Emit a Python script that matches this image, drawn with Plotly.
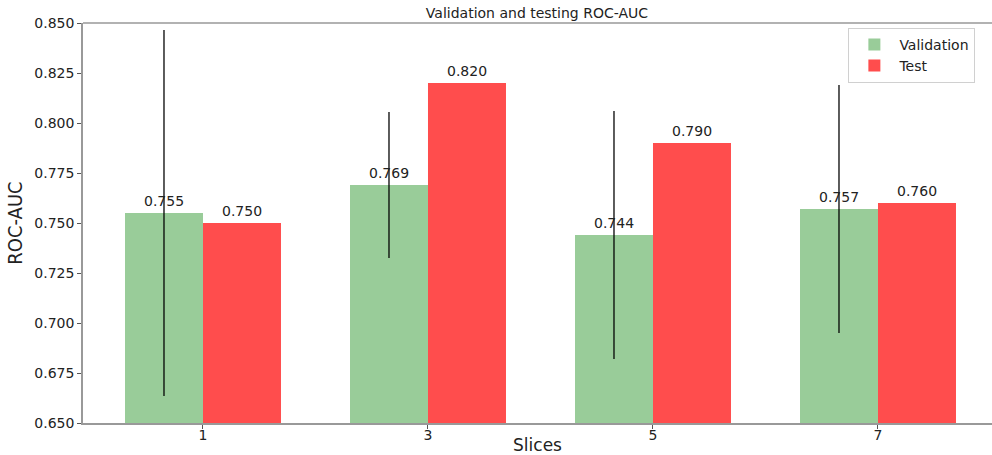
import plotly.graph_objects as go

slices = ["1", "3", "5", "7"]
val_auc = [0.755, 0.769, 0.744, 0.757]
val_err = [0.0915, 0.0365, 0.062, 0.062]
test_auc = [0.750, 0.820, 0.790, 0.760]

font_main = "DejaVu Sans"

fig = go.Figure()
fig.add_trace(go.Bar(
    x=slices, y=val_auc, name="Validation",
    marker=dict(color="#99cc99", line=dict(width=0)),
    error_y=dict(type="data", array=val_err, visible=True,
                 color="rgba(0,0,0,0.85)", thickness=1.5, width=0),
))
fig.add_trace(go.Bar(
    x=slices, y=test_auc, name="Test",
    marker=dict(color="#ff4d4d", line=dict(width=0)),
))

annotations = []
offset = 0.3467 / 2
for i, (v, t) in enumerate(zip(val_auc, test_auc)):
    annotations.append(dict(x=i - offset, y=v, xref="x", yref="y",
                            text=f"{v:.3f}", showarrow=False,
                            yanchor="bottom", yshift=2,
                            font=dict(family=font_main, size=14, color="#222")))
    annotations.append(dict(x=i + offset, y=t, xref="x", yref="y",
                            text=f"{t:.3f}", showarrow=False,
                            yanchor="bottom", yshift=2,
                            font=dict(family=font_main, size=14, color="#222")))

fig.update_layout(
    width=992, height=455,
    margin=dict(l=83, r=0, t=23, b=32, autoexpand=False),
    paper_bgcolor="white", plot_bgcolor="white",
    barmode="group", bargap=0.3067, bargroupgap=0,
    title=dict(text="Validation and testing ROC-AUC", x=0.5413, xanchor="center",
               y=0.972, yanchor="middle",
               font=dict(family=font_main, size=14, color="#222")),
    legend=dict(x=0.842, y=0.988, xanchor="left", yanchor="top",
                bordercolor="#d0d0d0", borderwidth=1, bgcolor="white",
                font=dict(family=font_main, size=14, color="#222"),
                tracegroupgap=0, itemwidth=40),
    annotations=annotations,
    showlegend=True,
)
fig.update_xaxes(
    type="category", range=[-0.5333, 3.5067],
    showline=True, linecolor="#999", linewidth=1.5, mirror=False,
    ticks="outside", ticklen=4, tickcolor="#555",
    ticklabelstandoff=-6,
    tickfont=dict(family=font_main, size=14, color="#222"),
    title=dict(text="Slices", font=dict(family=font_main, size=17, color="#222"),
               standoff=0),
    showgrid=False,
)
fig.update_yaxes(
    range=[0.65, 0.85], tickvals=[0.65, 0.675, 0.7, 0.725, 0.75, 0.775, 0.8, 0.825, 0.85],
    tickformat=".3f",
    showline=True, linecolor="#999", linewidth=1.5,
    ticks="outside", ticklen=4, tickcolor="#555",
    tickfont=dict(family=font_main, size=14, color="#222"),
    title=dict(text="ROC-AUC", font=dict(family="Liberation Sans Narrow, DejaVu Sans Condensed", size=20, color="#222"),
               standoff=6),
    showgrid=False, zeroline=False,
)
# top spine
fig.add_shape(type="line", xref="paper", yref="paper", x0=0, x1=1, y0=1, y1=1,
              line=dict(color="#999", width=1.5))

fig.write_html("out.html", config={"displayModeBar": False},
               post_script="document.body.style.margin='0';document.body.style.overflow='hidden';")
